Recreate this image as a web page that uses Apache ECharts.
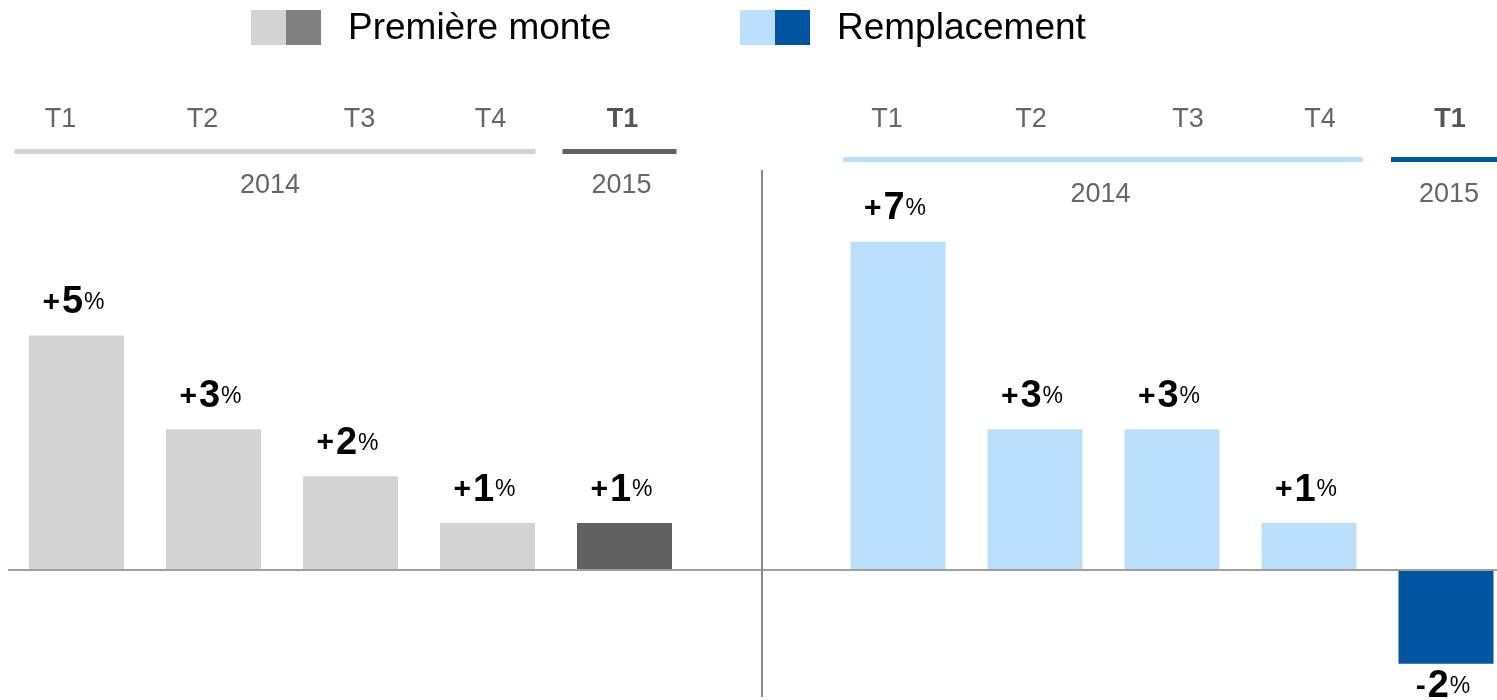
<!DOCTYPE html>
<html>
<head>
<meta charset="utf-8">
<script src="https://cdn.jsdelivr.net/npm/echarts@6/dist/echarts.min.js"></script>
<style>
  html, body { margin: 0; padding: 0; background: #fff; }
  #chart { width: 1497px; height: 700px; }
</style>
</head>
<body>
<div id="chart"></div>
<script>
// data
const quarters = ['T1', 'T2', 'T3', 'T4', 'T1']
const years = ['2014', '2015']
const premiereMonte = [5, 3, 2, 1, 1]
const remplacement = [7, 3, 3, 1, -2]

const FONT = 'Liberation Sans, Arial, sans-serif'
const grey = { light: '#d3d3d3', dark: '#616161', legend: '#808080' }
const blue = { light: '#bbdefb', dark: '#0054a0', legend: '#0054a0' }

// small nudges of the quarter labels, as in the original slide
const tickPad = [
  [[0, 32, 0, 0], [0, 22, 0, 0], [0, 0, 0, 18], [0, 0, 0, 6], [0, 4, 0, 0]],
  [[0, 22, 0, 0], [0, 8, 0, 0], [0, 0, 0, 32], [0, 0, 0, 22], [0, 0, 0, 8]]
]

function tickRich(g) {
  const rich = {}
  tickPad[g].forEach((p, i) => {
    rich['q' + i] = {
      fontFamily: FONT,
      fontSize: 27,
      color: i === 4 ? '#555' : '#666',
      fontWeight: i === 4 ? 'bold' : 'normal',
      padding: p
    }
  })
  return rich
}

function barData(values, pal) {
  return values.map((v, i) => ({
    value: v,
    itemStyle: { color: i === values.length - 1 ? pal.dark : pal.light },
    label: { position: v < 0 ? 'bottom' : 'top', distance: v < 0 ? 4 : 14 }
  }))
}

const labelStyle = {
  show: true,
  fontFamily: FONT,
  offset: [-3, 0],
  formatter: (p) => {
    const s = p.value < 0 ? '-' : '+'
    return '{s|' + s + '}{n|' + Math.abs(p.value) + '}{p|%}'
  },
  rich: {
    s: { fontFamily: FONT, fontSize: 30, fontWeight: 'bold', color: '#000', padding: [0, 2, 0, 0] },
    n: { fontFamily: FONT, fontSize: 38, fontWeight: 'bold', color: '#000', padding: [0, 1, 0, 0] },
    p: { fontFamily: FONT, fontSize: 23, color: '#000' }
  }
}

const gridTop = 194.8
const gridHeight = 492.4

function xAxis(idx) {
  return {
    type: 'category',
    gridIndex: idx,
    position: 'top',
    data: quarters,
    axisLine: { show: false },
    axisTick: { show: false },
    axisLabel: {
      margin: 62,
      formatter: (v, i) => '{q' + i + '|' + v + '}',
      rich: tickRich(idx)
    }
  }
}

function yAxis(idx) {
  return {
    type: 'value',
    gridIndex: idx,
    min: -2.5,
    max: 8,
    show: false,
    splitLine: { show: false }
  }
}

const chart = echarts.init(document.getElementById('chart'))

chart.setOption({
  animation: false,
  textStyle: { fontFamily: FONT },
  grid: [
    { left: 8, top: gridTop, width: 685, height: gridHeight, outerBoundsMode: 'none' },
    { left: 829.5, width: 685, top: gridTop, height: gridHeight, outerBoundsMode: 'none' }
  ],
  xAxis: [xAxis(0), xAxis(1)],
  yAxis: [yAxis(0), yAxis(1)],
  series: [
    {
      name: 'Première monte',
      type: 'bar',
      xAxisIndex: 0,
      yAxisIndex: 0,
      barWidth: 95,
      data: barData(premiereMonte, grey),
      label: labelStyle
    },
    {
      name: 'Remplacement',
      type: 'bar',
      xAxisIndex: 1,
      yAxisIndex: 1,
      barWidth: 95,
      data: barData(remplacement, blue),
      label: labelStyle
    }
  ]
})

// decorations placed from the axes' own scales
const px = (g, i, v) => chart.convertToPixel({ gridIndex: g }, [i, v])
const zeroY = px(0, 0, 0)[1]
const graphics = []

// baseline and separator
graphics.push({
  type: 'line', z: 10,
  shape: { x1: 8, y1: zeroY, x2: 1497, y2: zeroY },
  style: { stroke: '#a0a0a0', lineWidth: 2 }
})
graphics.push({
  type: 'line', z: 10,
  shape: { x1: 762, y1: 170, x2: 762, y2: 697 },
  style: { stroke: '#888', lineWidth: 2 }
})

// year brackets: [left of first quarter, right of T4, left of 2015, right of 2015]
function yearBracket(g, pal, lineY, textY, shift, ext) {
  const c0 = px(g, 0, 0)[0]
  const c3 = px(g, 3, 0)[0]
  const c4 = px(g, 4, 0)[0]
  graphics.push({
    type: 'rect',
    shape: { x: c0 - ext[0], y: lineY - 2, width: c3 - c0 + ext[0] + ext[1], height: 5 },
    style: { fill: pal.light }
  })
  graphics.push({
    type: 'rect',
    shape: { x: c4 - ext[2], y: lineY - 2, width: ext[2] + ext[3], height: 5 },
    style: { fill: pal.dark }
  })
  graphics.push({
    type: 'text',
    style: { text: years[0], x: (c0 + c3) / 2 + shift, y: textY, align: 'center', verticalAlign: 'middle',
      font: '27px ' + FONT, fill: '#666' }
  })
  graphics.push({
    type: 'text',
    style: { text: years[1], x: c4 + (g === 0 ? -3 : 3), y: textY, align: 'center', verticalAlign: 'middle',
      font: '27px ' + FONT, fill: '#666' }
  })
}
yearBracket(0, grey, 151, 186, -12, [62, 48, 62, 52])
yearBracket(1, blue, 159, 195, -3, [55, 54, 55, 52])

// legend with split swatches
function legendItem(x, pal, name) {
  graphics.push({ type: 'rect', shape: { x: x, y: 10, width: 35, height: 35 }, style: { fill: pal.light } })
  graphics.push({ type: 'rect', shape: { x: x + 35, y: 10, width: 35, height: 35 }, style: { fill: pal.legend } })
  graphics.push({
    type: 'text',
    style: { text: name, x: x + 97, y: 29, verticalAlign: 'middle', font: '37px ' + FONT, fill: '#000' }
  })
}
legendItem(251, grey, 'Première monte')
legendItem(740, blue, 'Remplacement')

chart.setOption({ graphic: graphics })
</script>
</body>
</html>
